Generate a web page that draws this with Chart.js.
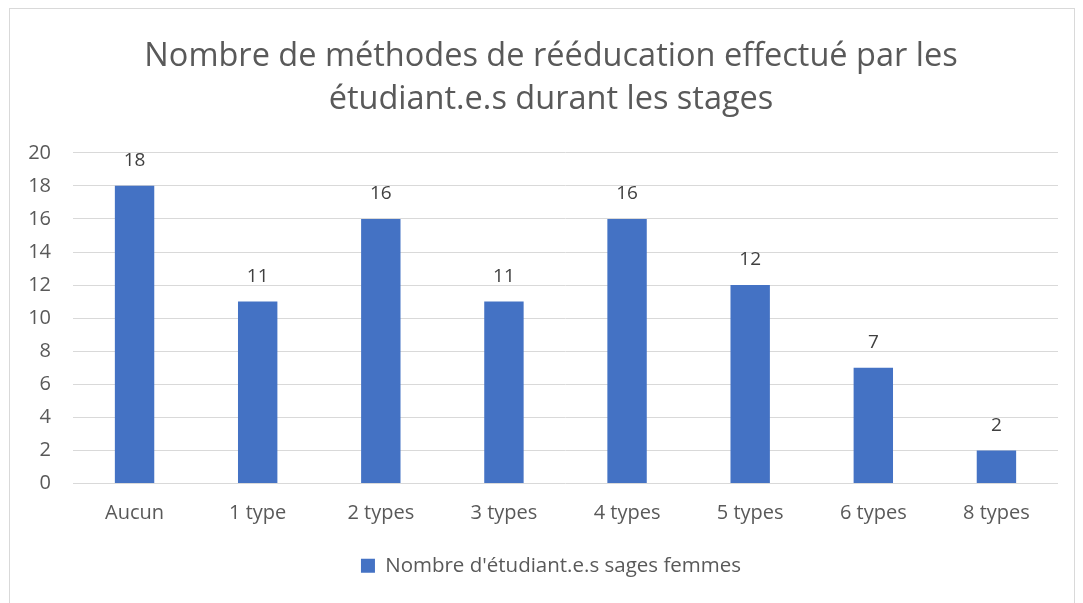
<!DOCTYPE html>
<html>
<head>
<meta charset="utf-8">
<script src="https://cdn.jsdelivr.net/npm/chart.js@4/dist/chart.umd.min.js"></script>
<style>
  html,body{margin:0;padding:0;background:#fff;overflow:hidden;}
  #box{position:absolute;left:9px;top:8px;width:1066px;height:600px;border:1px solid #d9d9d9;box-sizing:border-box;}
  #c{display:block;}
</style>
</head>
<body>
<div id="box"><canvas id="c" width="1064" height="598"></canvas></div>
<script>
const categories = ['Aucun','1 type','2 types','3 types','4 types','5 types','6 types','8 types'];
const values = [18, 11, 16, 11, 16, 12, 7, 2];
const seriesName = "Nombre d'étudiant.e.s sages femmes";
const titleLines = ['Nombre de méthodes de rééducation effectué par les','étudiant.e.s durant les stages'];
const yTicks = {min:0, max:20, step:2};

const FONT = '"Open Sans", Lato, sans-serif';
const BLUE = '#4472C4';

// value labels above each bar
const barLabels = {
  id:'barLabels',
  afterDatasetsDraw(chart){
    const ctx = chart.ctx;
    const meta = chart.getDatasetMeta(0);
    ctx.save();
    ctx.font = '19px ' + FONT;
    ctx.fillStyle = '#404040';
    ctx.textAlign = 'center';
    ctx.textBaseline = 'middle';
    meta.data.forEach((bar,i)=>{
      ctx.fillText(values[i], bar.x, bar.y - 25);
    });
    ctx.restore();
  }
};

// y tick labels drawn outside the (narrow) y scale box so they are not clipped
const yLabels = {
  id:'yLabels',
  afterDraw(chart){
    const ctx = chart.ctx, ys = chart.scales.y;
    ctx.save();
    ctx.font = '20px ' + FONT;
    ctx.fillStyle = '#595959';
    ctx.textAlign = 'right';
    ctx.textBaseline = 'middle';
    ys.ticks.forEach(t=>{
      ctx.fillText(t.value, chart.chartArea.left - 22, ys.getPixelForValue(t.value));
    });
    ctx.restore();
  }
};

new Chart('c',{
  type:'bar',
  data:{
    labels:categories,
    datasets:[{
      label:seriesName,
      data:values,
      backgroundColor:BLUE,
      borderWidth:0,
      barPercentage:0.32,
      categoryPercentage:1
    }]
  },
  options:{
    responsive:false,
    animation:false,
    devicePixelRatio:1,
    layout:{padding:{left:34,right:16,top:0,bottom:21}},
    plugins:{
      title:{display:true,text:titleLines,color:'#595959',
        font:{family:FONT,size:32.5,weight:'normal',lineHeight:1.32},
        padding:{top:26,bottom:32}},
      legend:{position:'bottom',
        labels:{color:'#595959',font:{family:FONT,size:20.5},boxWidth:14,boxHeight:14,padding:9}},
      tooltip:{enabled:false}
    },
    scales:{
      x:{
        grid:{display:false,drawTicks:false},
        border:{display:false},
        ticks:{color:'#595959',font:{family:FONT,size:20},padding:18,maxRotation:0},
        afterFit(s){ s.height = 63; }
      },
      y:{
        min:yTicks.min,max:yTicks.max,
        grid:{color:'#d9d9d9',lineWidth:1,drawTicks:false},
        border:{display:false},
        ticks:{stepSize:yTicks.step,display:false},
        afterFit(s){ s.width = 29; }
      }
    }
  },
  plugins:[barLabels, yLabels]
});
</script>
</body>
</html>
